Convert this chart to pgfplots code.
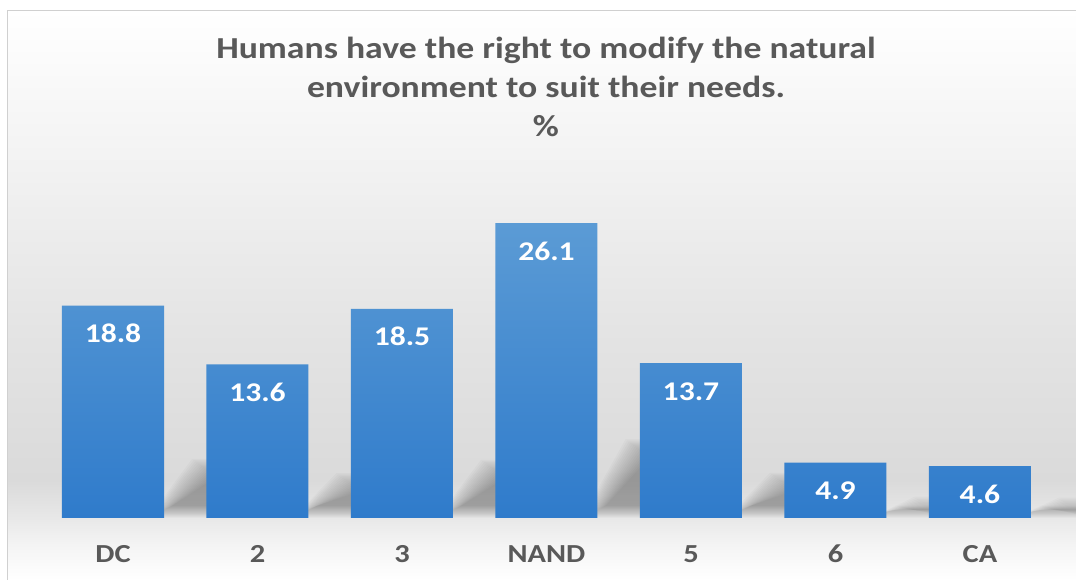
\documentclass[border=0pt]{standalone}
\usepackage{fontspec}
\setmainfont{Carlito}[FakeStretch=1.17]
\usepackage{pgfplots}
\pgfplotsset{compat=1.18}

\definecolor{titlegray}{HTML}{595959}
\definecolor{barTop}{HTML}{5B9BD5}
\definecolor{barBot}{HTML}{2F7BCB}
\definecolor{bgA}{HTML}{F4F4F4}
\definecolor{bgB}{HTML}{E8E8E8}
\definecolor{bgC}{HTML}{DADADA}
\definecolor{bgD}{HTML}{E4E4E4}
\definecolor{bgE}{HTML}{F5F5F5}
\definecolor{frameline}{HTML}{D0D0D0}

% backdrop: white at the top, greyest just above the floor of the bars,
% fading back to white below them
\pgfdeclareverticalshading{chartbg}{100bp}{%
  color(0bp)=(white); color(25bp)=(white); color(28.07bp)=(bgA);
  color(30.44bp)=(bgB); color(33.77bp)=(bgC); color(46.93bp)=(bgD);
  color(64.47bp)=(bgE); color(75bp)=(white); color(100bp)=(white)}

\begin{document}
\begin{tikzpicture}[x=1bp,y=1bp]
\path[use as bounding box] (0,0) rectangle (1076,580);
\fill[white] (0,0) rectangle (1076,580);
\shade[shading=chartbg] (7,0) rectangle (1076,570);
\draw[frameline, line width=1.2bp] (7.5,0) -- (7.5,569.5) -- (1076,569.5);

% soft perspective shadows cast behind each bar (stacked translucent
% layers give a blurred edge)
\foreach \i/\v in {0/18.8,1/13.6,2/18.5,3/26.1,4/13.7,5/4.9,6/4.6}{
  \pgfmathsetmacro\xr{164+144.5*\i}
  \pgfmathsetmacro\sh{0.24*11.3*\v}
  \foreach \j in {0,...,15}{
    \pgfmathsetmacro\tp{62+\sh+8-1.2*\j}
    \pgfmathsetmacro\bt{62+0.8*\j}
    \fill[black, opacity=0.02]
      (\xr-16+1.6*\j, \bt) -- (\xr+28+1.6*\j, \tp) --
      (\xr+130, \tp) -- (\xr+95, \bt) -- cycle;
  }
}

% title
\begin{scope}[every node/.style={anchor=base, text=titlegray,
    font=\fontsize{30.5bp}{36bp}\selectfont\bfseries}]
  \node at (546,521) {Humans have the right to modify the natural};
  \node at (546,482) {environment to suit their needs.};
  \node at (546,443) {\%};
\end{scope}

\begin{axis}[
  at={(40.75bp,62bp)}, anchor=south west,
  scale only axis, width=1011.5bp, height=339bp,
  xmin=-0.5, xmax=6.5, ymin=0, ymax=30,
  axis line style={draw=none},
  major tick length=0pt,
  ytick=\empty,
  xtick={0,...,6},
  xticklabels={DC,2,3,NAND,5,6,CA},
  xticklabel style={anchor=base, yshift=-44.3bp, text=titlegray,
    font=\fontsize{26bp}{30bp}\selectfont\bfseries},
  clip=false,
  /pgf/number format/assume math mode=true,
]
\addplot[ybar, bar width=102bp, draw=none,
  top color=barTop, bottom color=barBot,
  nodes near coords={\pgfmathprintnumber[fixed,fixed zerofill,precision=1]{\pgfplotspointmeta}},
  every node near coord/.append style={anchor=base, yshift=-37bp, text=white,
    font=\fontsize{27bp}{32bp}\selectfont\bfseries}]
  coordinates {(0,18.8) (1,13.6) (2,18.5) (3,26.1) (4,13.7) (5,4.9) (6,4.6)};
\end{axis}
\end{tikzpicture}
\end{document}
